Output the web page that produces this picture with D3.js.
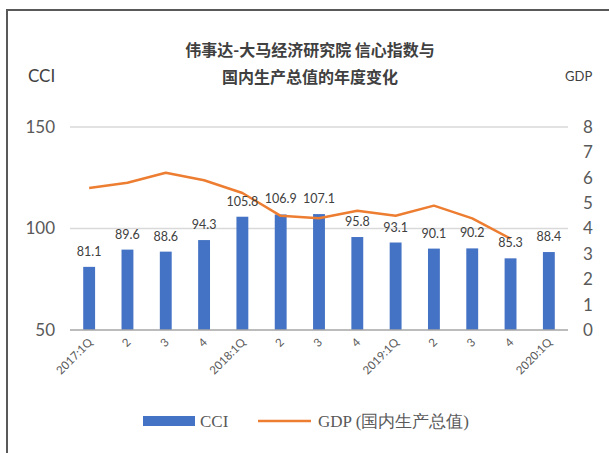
<!DOCTYPE html>
<html>
<head>
<meta charset="utf-8">
<script src="https://d3js.org/d3.v7.min.js"></script>
<style>
  body { margin: 0; background: #fff; }
</style>
</head>
<body>
<div id="chart"></div>
<script>
  var width = 609;
  var height = 453;

  // data
  var quarters = ["2017:1Q", "2", "3", "4", "2018:1Q", "2", "3", "4", "2019:1Q", "2", "3", "4", "2020:1Q"];
  var cci = [81.1, 89.6, 88.6, 94.3, 105.8, 106.9, 107.1, 95.8, 93.1, 90.1, 90.2, 85.3, 88.4];
  var gdp = [5.6, 5.8, 6.2, 5.9, 5.4, 4.5, 4.4, 4.7, 4.5, 4.9, 4.4, 3.6];
  var leftTicks = [50, 100, 150];
  var rightTicks = [0, 1, 2, 3, 4, 5, 6, 7, 8];

  var svg = d3.select("#chart")
    .append("svg")
    .attr("width", width)
    .attr("height", height);

  // frame
  svg.append("path")
    .attr("d", "M7,453 V10 H609")
    .attr("fill", "none")
    .attr("stroke", "#595959")
    .attr("stroke-width", 2);

  var x = d3.scaleBand()
    .domain(d3.range(quarters.length))
    .range([70, 568])
    .paddingInner(0.69)
    .paddingOuter(0.345);

  var yL = d3.scaleLinear().domain([50, 150]).range([330, 127]);
  var yR = d3.scaleLinear().domain([0, 8]).range([330, 127]);

  // gridlines
  svg.selectAll("line.grid")
    .data([100, 150])
    .enter()
    .append("line")
    .attr("class", "grid")
    .attr("x1", 70)
    .attr("x2", 568)
    .attr("y1", function(d) { return yL(d); })
    .attr("y2", function(d) { return yL(d); })
    .attr("stroke", "#d9d9d9")
    .attr("stroke-width", 1.5);

  // bars
  svg.selectAll("rect.bar")
    .data(cci)
    .enter()
    .append("rect")
    .attr("class", "bar")
    .attr("x", function(d, i) { return x(i); })
    .attr("width", x.bandwidth())
    .attr("y", function(d) { return yL(d); })
    .attr("height", function(d) { return yL(50) - yL(d); })
    .attr("fill", "#4472c4");

  // bottom axis line
  svg.append("line")
    .attr("x1", 70)
    .attr("x2", 568)
    .attr("y1", yL(50))
    .attr("y2", yL(50))
    .attr("stroke", "#a6a6a6")
    .attr("stroke-width", 1.5);

  // gdp line
  var line = d3.line()
    .x(function(d, i) { return x(i) + x.bandwidth() / 2; })
    .y(function(d) { return yR(d); });

  svg.append("path")
    .datum(gdp)
    .attr("d", line)
    .attr("fill", "none")
    .attr("stroke", "#ed7d31")
    .attr("stroke-width", 2.5)
    .attr("stroke-linejoin", "round");

  // bar value labels
  svg.selectAll("text.val")
    .data(cci)
    .enter()
    .append("text")
    .attr("class", "val")
    .attr("x", function(d, i) { return x(i) + x.bandwidth() / 2; })
    .attr("y", function(d) { return yL(d) - 11; })
    .attr("text-anchor", "middle")
    .style("font-family", "Lato, 'Open Sans', sans-serif")
    .style("font-size", "12.5px")
    .style("fill", "#404040")
    .text(function(d) { return d.toFixed(1); });

  // left axis labels
  svg.selectAll("text.yl")
    .data(leftTicks)
    .enter()
    .append("text")
    .attr("class", "yl")
    .attr("x", 55)
    .attr("y", function(d) { return yL(d); })
    .attr("dy", "0.35em")
    .attr("text-anchor", "end")
    .style("font-family", "Lato, 'Open Sans', sans-serif")
    .style("font-size", "17px")
    .style("fill", "#595959")
    .text(function(d) { return d; });

  // right axis labels
  svg.selectAll("text.yr")
    .data(rightTicks)
    .enter()
    .append("text")
    .attr("class", "yr")
    .attr("x", 583)
    .attr("y", function(d) { return yR(d); })
    .attr("dy", "0.35em")
    .attr("text-anchor", "start")
    .style("font-family", "Lato, 'Open Sans', sans-serif")
    .style("font-size", "17px")
    .style("fill", "#595959")
    .text(function(d) { return d; });

  // x labels, rotated
  svg.selectAll("text.xl")
    .data(quarters)
    .enter()
    .append("text")
    .attr("class", "xl")
    .attr("transform", function(d, i) {
      return "translate(" + (x(i) + x.bandwidth() / 2 + 4) + ",343) rotate(-45)";
    })
    .attr("text-anchor", "end")
    .style("font-family", "Lato, 'Open Sans', sans-serif")
    .style("font-size", "11.5px")
    .style("fill", "#595959")
    .text(function(d) { return d; });

  // title
  var title = ["伟事达-大马经济研究院 信心指数与", "国内生产总值的年度变化"];
  svg.selectAll("text.title")
    .data(title)
    .enter()
    .append("text")
    .attr("class", "title")
    .attr("x", 310)
    .attr("y", function(d, i) { return 56 + i * 27; })
    .attr("text-anchor", "middle")
    .style("font-family", "'Noto Sans CJK SC', sans-serif")
    .style("font-weight", "bold")
    .style("font-size", "16px")
    .style("fill", "#404040")
    .text(function(d) { return d; });

  svg.append("text")
    .attr("x", 28).attr("y", 82)
    .style("font-family", "Lato, 'Open Sans', sans-serif")
    .style("font-size", "17px")
    .style("fill", "#404040")
    .text("CCI");

  svg.append("text")
    .attr("x", 565).attr("y", 81)
    .style("font-family", "Lato, 'Open Sans', sans-serif")
    .style("font-size", "13px")
    .style("fill", "#404040")
    .text("GDP");

  // legend
  svg.append("rect")
    .attr("x", 143).attr("y", 416)
    .attr("width", 52).attr("height", 10)
    .attr("fill", "#4472c4");
  svg.append("text")
    .attr("x", 200).attr("y", 427)
    .style("font-family", "'Liberation Serif', serif")
    .style("font-size", "17px")
    .style("fill", "#595959")
    .text("CCI");
  svg.append("line")
    .attr("x1", 258).attr("x2", 311)
    .attr("y1", 421).attr("y2", 421)
    .attr("stroke", "#ed7d31")
    .attr("stroke-width", 2.5);
  svg.append("text")
    .attr("x", 318).attr("y", 427)
    .style("font-family", "'Liberation Serif', serif")
    .style("font-size", "17px")
    .style("fill", "#595959")
    .text("GDP (国内生产总值)");
</script>
</body>
</html>
